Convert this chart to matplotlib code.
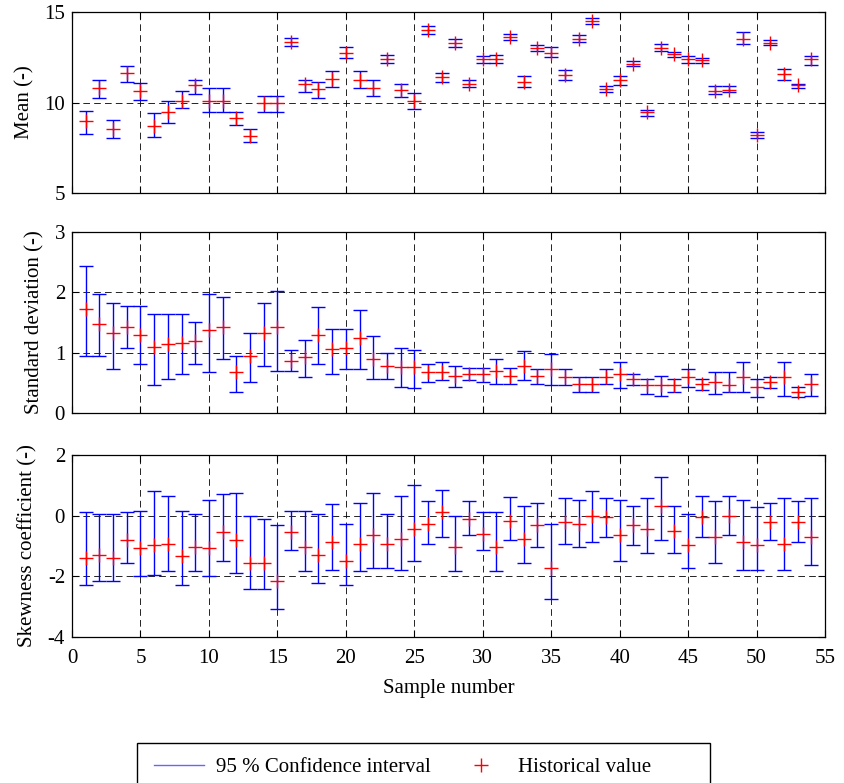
import numpy as np
import matplotlib
matplotlib.use("Agg")
import matplotlib.pyplot as plt
from matplotlib.lines import Line2D
from matplotlib.patches import Rectangle

plt.rcParams['font.family'] = ['Liberation Serif', 'DejaVu Serif']
plt.rcParams['font.size'] = 15
plt.rcParams['axes.unicode_minus'] = False

samples = np.arange(1, 55)

mean_hi = [9.55, 11.24, 9.04, 12.04, 11.07, 9.40, 10.09, 10.64, 11.24, 10.80,
           10.80, 9.47, 8.51, 10.36, 10.36, 13.55, 11.25, 11.15, 11.76, 13.07,
           11.76, 11.22, 12.62, 11.04, 10.51, 14.22, 11.62, 13.49, 11.24, 12.58,
           12.65, 13.80, 11.49, 13.16, 13.04, 11.78, 13.73, 14.67, 10.91, 11.49,
           12.31, 9.60, 13.25, 12.80, 12.56, 12.47, 10.91, 10.93, 13.89, 8.38,
           13.45, 11.87, 11.04, 12.56]
mean_lo = [8.25, 10.27, 8.05, 11.16, 10.16, 8.07, 8.87, 9.67, 10.47, 9.47,
           9.47, 8.76, 7.80, 9.47, 9.47, 13.11, 10.60, 10.27, 10.87, 12.44,
           10.80, 10.35, 12.16, 10.33, 9.64, 13.80, 11.11, 13.09, 10.87, 12.16,
           12.16, 13.44, 10.87, 12.84, 12.53, 11.25, 13.35, 14.31, 10.58, 10.96,
           12.00, 9.27, 12.82, 12.51, 12.16, 12.16, 10.45, 10.58, 13.25, 8.02,
           13.16, 11.24, 10.82, 12.07]
mean_hist = [8.96, 10.82, 8.51, 11.62, 10.64, 8.69, 9.49, 10.09, 10.95, 10.09,
             10.09, 9.13, 8.15, 9.95, 9.95, 13.36, 11.00, 10.73, 11.31, 12.75,
             11.25, 10.80, 12.40, 10.69, 10.07, 14.02, 11.42, 13.31, 11.04, 12.40,
             12.40, 13.62, 11.16, 13.00, 12.76, 11.53, 13.53, 14.51, 10.75, 11.24,
             12.15, 9.45, 13.02, 12.67, 12.38, 12.35, 10.65, 10.71, 13.53, 8.22,
             13.31, 11.58, 10.95, 12.38]

std_hi = [2.43, 1.97, 1.83, 1.78, 1.78, 1.64, 1.64, 1.64, 1.51, 1.97,
          1.92, 0.94, 1.32, 1.83, 2.02, 1.05, 1.21, 1.76, 1.40, 1.40,
          1.70, 1.27, 1.00, 1.08, 1.05, 0.81, 0.84, 0.78, 0.75, 0.75,
          0.89, 0.75, 1.02, 0.73, 0.97, 0.73, 0.59, 0.59, 0.73, 0.84,
          0.65, 0.57, 0.62, 0.57, 0.73, 0.57, 0.68, 0.68, 0.84, 0.57,
          0.59, 0.84, 0.43, 0.65]
std_lo = [0.94, 0.94, 0.73, 1.08, 0.81, 0.46, 0.57, 0.65, 0.81, 0.68,
          0.89, 0.35, 0.51, 0.78, 0.70, 0.70, 0.59, 0.81, 0.65, 0.73,
          0.73, 0.57, 0.57, 0.43, 0.41, 0.51, 0.54, 0.43, 0.54, 0.51,
          0.48, 0.48, 0.54, 0.48, 0.46, 0.46, 0.35, 0.35, 0.48, 0.41,
          0.46, 0.32, 0.29, 0.35, 0.43, 0.38, 0.32, 0.35, 0.35, 0.27,
          0.41, 0.29, 0.27, 0.29]
std_hist = [1.73, 1.48, 1.32, 1.43, 1.29, 1.10, 1.14, 1.16, 1.19, 1.38,
            1.43, 0.68, 0.94, 1.32, 1.43, 0.86, 0.92, 1.29, 1.06, 1.08,
            1.24, 0.89, 0.78, 0.76, 0.76, 0.68, 0.68, 0.62, 0.65, 0.65,
            0.70, 0.62, 0.78, 0.62, 0.73, 0.59, 0.48, 0.48, 0.59, 0.65,
            0.57, 0.46, 0.46, 0.46, 0.59, 0.48, 0.51, 0.46, 0.59, 0.43,
            0.51, 0.59, 0.35, 0.48]

skew_hi = [0.11, 0.06, 0.06, 0.11, 0.17, 0.81, 0.64, 0.17, 0.06, 0.53,
           0.70, 0.76, 0.00, -0.10, -0.32, 0.17, 0.17, 0.06, 0.37, -0.27,
           0.43, 0.76, 0.06, 0.64, 1.02, 0.49, 0.86, 0.00, 0.49, 0.11,
           0.11, 0.60, 0.32, 0.43, -0.27, 0.59, 0.53, 0.81, 0.59, 0.53,
           0.32, 0.59, 1.29, 0.32, 0.06, 0.64, 0.49, 0.64, 0.53, 0.27,
           0.43, 0.59, 0.49, 0.59]
skew_lo = [-2.27, -2.17, -2.17, -1.57, -2.00, -1.94, -1.83, -2.27, -1.83, -2.00,
           -1.51, -1.90, -2.43, -2.43, -3.08, -1.13, -1.83, -2.22, -1.79, -2.27,
           -1.83, -1.73, -1.73, -1.79, -1.51, -0.92, -0.70, -1.83, -0.64, -1.13,
           -1.83, -0.81, -1.57, -1.02, -2.76, -0.92, -1.02, -0.87, -0.70, -1.51,
           -0.98, -1.24, -0.81, -1.24, -1.73, -0.70, -1.57, -0.64, -1.79, -1.79,
           -0.81, -1.79, -0.87, -1.62]
skew_hist = [-1.39, -1.30, -1.39, -0.81, -1.06, -0.97, -0.92, -1.33, -1.02, -1.06,
             -0.53, -0.81, -1.57, -1.57, -2.17, -0.53, -1.02, -1.30, -0.87, -1.51,
             -0.92, -0.64, -0.92, -0.76, -0.43, -0.27, 0.11, -1.02, -0.10, -0.59,
             -1.02, -0.16, -0.76, -0.32, -1.73, -0.21, -0.27, 0.00, -0.06, -0.64,
             -0.32, -0.43, 0.32, -0.49, -0.97, -0.06, -0.70, 0.00, -0.87, -0.97,
             -0.21, -0.92, -0.21, -0.70]

ylabels = ["Mean (-)", "Standard deviation (-)", "Skewness coefficient (-)"]
ylims = [(5, 15), (0, 3), (-4, 2)]
yticks = [[5, 10, 15], [0, 1, 2, 3], [-4, -2, 0, 2]]
xticks = list(range(0, 60, 5))

W, H = 845, 783
fig = plt.figure(figsize=(W / 100, H / 100), dpi=100)

# axes pixel boxes (top, bottom)
boxes = [(12, 193), (232, 413), (455, 637)]
left_px, right_px = 72, 825

panels = [(mean_lo, mean_hi, mean_hist),
          (std_lo, std_hi, std_hist),
          (skew_lo, skew_hi, skew_hist)]

for i, ((top, bot), (lo, hi, hist)) in enumerate(zip(boxes, panels)):
    ax = fig.add_axes([left_px / W, 1 - bot / H, (right_px - left_px) / W, (bot - top) / H])
    lo = np.array(lo); hi = np.array(hi)
    mid = (lo + hi) / 2
    ax.errorbar(samples, mid, yerr=[mid - lo, hi - mid], fmt='none', ecolor='#0000FF',
                elinewidth=1.0, capsize=5.3, capthick=1.0, zorder=3)
    ax.plot(samples, hist, linestyle='none', marker='+', color='#FF0000',
            markersize=10, markeredgewidth=1.0, zorder=4)
    ax.set_xlim(0, 55)
    ax.set_ylim(*ylims[i])
    ax.set_xticks(xticks)
    ax.set_yticks(yticks[i])
    ax.grid(True, color='k', linestyle=(0, (8, 5)), linewidth=0.6)
    ax.set_axisbelow(True)
    ax.tick_params(direction='in', top=True, right=True, length=5, width=0.8, labelsize=15)
    ax.tick_params(axis='y', pad=5)
    ax.tick_params(axis='x', pad=8.5)
    for s in ax.spines.values():
        s.set_linewidth(0.9)
    ax.set_ylabel(ylabels[i], fontsize=15, labelpad=7)
    if i < 2:
        ax.tick_params(labelbottom=False)
    else:
        ax.set_xlabel("Sample number", fontsize=15, labelpad=8)

fig.align_ylabels(fig.axes)

handles = [Line2D([], [], color='#0000FF', lw=1.0, alpha=0.6),
           Line2D([], [], color='#FF0000', linestyle='none', marker='+', markersize=10, markeredgewidth=1.0)]
labels = ["95 % Confidence interval", "Historical value"]
fig.legend(handles, labels, loc='upper left', bbox_to_anchor=(137 / W, 1 - 741 / H),
           ncol=2, frameon=False, fontsize=15, handlelength=2.4, handletextpad=0.6,
           columnspacing=1.2, borderpad=0.3)
fig.patches.append(Rectangle((137 / W, 0.0 - 0.01), (710 - 137) / W, 1 - 743 / H + 0.01,
                             transform=fig.transFigure, fill=False, edgecolor='k',
                             linewidth=1.0, figure=fig))

fig.savefig("out.png", dpi=100)
